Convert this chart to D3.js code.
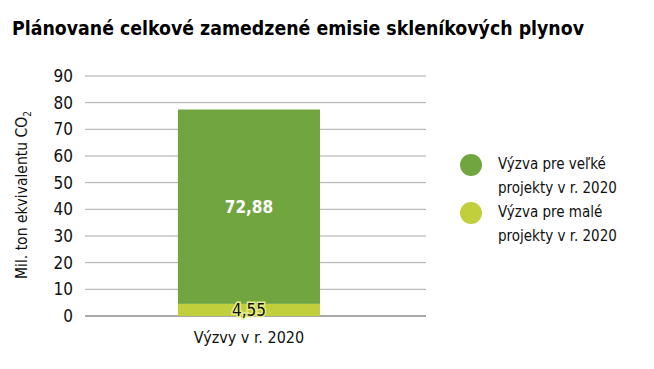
<!DOCTYPE html>
<html>
<head>
<meta charset="utf-8">
<script src="https://cdn.jsdelivr.net/npm/d3@7"></script>
<style>
  body { margin: 0; background: #fff; }
  svg text { font-family: "DejaVu Sans Condensed", "Liberation Sans Narrow", "Roboto", sans-serif; }
</style>
</head>
<body>
<svg id="chart" width="654" height="369"></svg>
<script>
const categories = ["Výzvy v r. 2020"];
const seriesNames = ["Výzva pre veľké projekty v r. 2020", "Výzva pre malé projekty v r. 2020"];
const smallProjects = [4.55];
const largeProjects = [72.88];
const yTicks = [0, 10, 20, 30, 40, 50, 60, 70, 80, 90];
const colors = ["#71a540", "#c2cf3c"];

const svg = d3.select("#chart");
const margin = { top: 76, right: 228, bottom: 53, left: 85 };
const width = 654 - margin.left - margin.right;
const height = 369 - margin.top - margin.bottom;

const g = svg.append("g").attr("transform", `translate(${margin.left},${margin.top})`);

// title
svg.append("text")
  .attr("x", 12).attr("y", 35)
  .style("font-size", "19.5px").style("font-weight", "bold")
  .attr("textLength", 572).attr("lengthAdjust", "spacingAndGlyphs")
  .text("Plánované celkové zamedzené emisie skleníkových plynov");

const x = d3.scaleBand().domain(categories).range([0, width])
  .paddingInner(0).paddingOuter(0.7).align(0.467);
const y = d3.scaleLinear().domain([0, 90]).range([height, 0]);

// gridlines
g.selectAll(".grid").data(yTicks).enter().append("line")
  .attr("x1", 0).attr("x2", width)
  .attr("y1", d => y(d)).attr("y2", d => y(d))
  .attr("stroke", d => d === 0 ? "#555" : "#aaa").attr("stroke-width", 1);

// y tick labels
const yAxis = g.append("g").call(d3.axisLeft(y).tickValues(yTicks).tickSize(0).tickPadding(12));
yAxis.select(".domain").remove();
yAxis.selectAll("text").style("font-size", "17px").style("fill", "#111")
  .style("font-family", "'DejaVu Sans Condensed', 'Liberation Sans Narrow', Roboto, sans-serif");

// y axis title
const yt = svg.append("text")
  .attr("transform", `translate(27, ${margin.top + height / 2 - 1}) rotate(-90)`)
  .attr("text-anchor", "middle")
  .style("font-size", "15.5px").style("fill", "#111");
yt.append("tspan").text("Mil. ton ekvivalentu CO");
yt.append("tspan").attr("dy", 4).style("font-size", "10px").text("2");

// stacked bars
const rows = categories.map((c, i) => ({ cat: c, small: smallProjects[i], large: largeProjects[i] }));
const stack = d3.stack().keys(["small", "large"])(rows);
const fill = { small: colors[1], large: colors[0] };

stack.forEach(layer => {
  g.selectAll(".bar-" + layer.key).data(layer).enter().append("rect")
    .attr("x", d => x(d.data.cat))
    .attr("width", x.bandwidth())
    .attr("y", d => y(d[1]))
    .attr("height", d => y(d[0]) - y(d[1]))
    .attr("fill", fill[layer.key]);
});

// value labels
rows.forEach(r => {
  const cx = x(r.cat) + x.bandwidth() / 2;
  g.append("text")
    .attr("x", cx).attr("y", y(r.small + r.large / 2) + 6)
    .attr("text-anchor", "middle")
    .style("font-size", "17px").style("font-weight", "bold").style("fill", "#fff")
    .text(d3.format(".2f")(r.large).replace(".", ","));
  g.append("text")
    .attr("x", cx).attr("y", y(r.small / 2) + 6)
    .attr("text-anchor", "middle")
    .style("font-size", "17px").style("fill", "#111")
    .style("paint-order", "stroke").style("stroke", "#e6ec8a").style("stroke-width", 3)
    .text(d3.format(".2f")(r.small).replace(".", ","));
});

// x labels
g.selectAll(".xlab").data(categories).enter().append("text")
  .attr("x", d => x(d) + x.bandwidth() / 2).attr("y", height + 27)
  .attr("text-anchor", "middle")
  .style("font-size", "16px").style("fill", "#111")
  .text(d => d);

// legend
const legendColors = [colors[0], colors[1]];
const legendLines = [["Výzva pre veľké", "projekty v r. 2020"], ["Výzva pre malé", "projekty v r. 2020"]];
const lg = svg.append("g").attr("transform", "translate(471,165)");
seriesNames.forEach((s, i) => {
  const item = lg.append("g").attr("transform", `translate(0, ${i * 48})`);
  item.append("circle").attr("r", 11).attr("fill", legendColors[i]);
  const t = item.append("text").attr("x", 27).attr("y", 4)
    .style("font-size", "15px").style("fill", "#111");
  legendLines[i].forEach((line, j) => {
    t.append("tspan").attr("x", 27).attr("dy", j === 0 ? 0 : 24).text(line);
  });
});
</script>
</body>
</html>
